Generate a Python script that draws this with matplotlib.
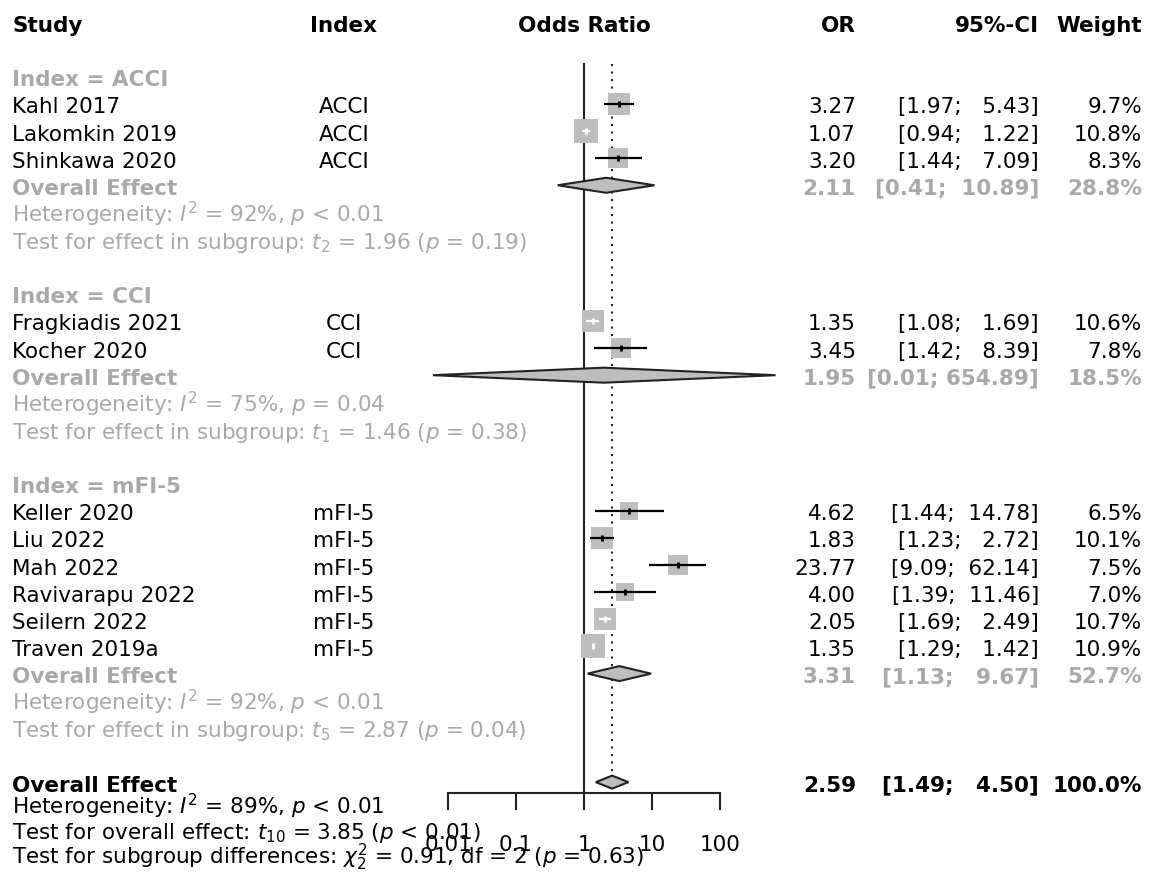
import numpy as np
import matplotlib
matplotlib.use("Agg")
import matplotlib.pyplot as plt
from matplotlib.patches import Polygon

plt.rcParams['font.family'] = ['DejaVu Sans']
plt.rcParams['mathtext.fontset'] = 'dejavusans'

# ---------------- data ----------------
studies = ["Kahl 2017", "Lakomkin 2019", "Shinkawa 2020",
           "Fragkiadis 2021", "Kocher 2020",
           "Keller 2020", "Liu 2022", "Mah 2022", "Ravivarapu 2022", "Seilern 2022", "Traven 2019a"]
index_lab = ["ACCI", "ACCI", "ACCI", "CCI", "CCI",
             "mFI-5", "mFI-5", "mFI-5", "mFI-5", "mFI-5", "mFI-5"]
or_est = [3.27, 1.07, 3.20, 1.35, 3.45, 4.62, 1.83, 23.77, 4.00, 2.05, 1.35]
or_lo = [1.97, 0.94, 1.44, 1.08, 1.42, 1.44, 1.23, 9.09, 1.39, 1.69, 1.29]
or_hi = [5.43, 1.22, 7.09, 1.69, 8.39, 14.78, 2.72, 62.14, 11.46, 2.49, 1.42]
weight = [9.7, 10.8, 8.3, 10.6, 7.8, 6.5, 10.1, 7.5, 7.0, 10.7, 10.9]

groups = ["ACCI", "CCI", "mFI-5"]
grp_or = [2.11, 1.95, 3.31]
grp_lo = [0.41, 0.006, 1.13]
grp_hi = [10.89, 654.89, 9.67]
grp_w = [28.8, 18.5, 52.7]
grp_i2 = [92, 75, 92]
grp_phet = ["< 0.01", "= 0.04", "< 0.01"]
grp_df = [2, 1, 5]
grp_t = [1.96, 1.46, 2.87]
grp_p = [0.19, 0.38, 0.04]

tot_or, tot_lo, tot_hi, tot_w = 2.59, 1.49, 4.50, 100.0
tot_i2, tot_phet = 89, "< 0.01"
tot_df, tot_t, tot_p = 10, 3.85, "< 0.01"
sub_chi2, sub_df, sub_p = 0.91, 2, 0.63

ticks = [0.01, 0.1, 1, 10, 100]
tick_labels = ["0.01", "0.1", "1", "10", "100"]

# ---------------- layout ----------------
W, H = 1150, 880
FS = 15.5
GRAY = "#a9a9a9"
SQ = "#bebebe"
X0, X1 = 448, 720          # pixel extent of the 0.01..100 axis
PX_DEC = (X1 - X0) / 4.0
ROW0, DY = 32, 27.13
def base(r):
    return ROW0 + DY * r
def mid(r):
    return base(r) - 9.5

fig = plt.figure(figsize=(W / 100, H / 100), dpi=100)
tax = fig.add_axes([0, 0, 1, 1])
tax.set_xlim(0, W); tax.set_ylim(H, 0); tax.axis("off")

fax = fig.add_axes([X0 / W, 0, (X1 - X0) / W, 1])
fax.set_xscale("log")
fax.set_xlim(ticks[0], ticks[-1]); fax.set_ylim(H, 0)
fax.patch.set_alpha(0)
for s in ["top", "left", "right"]:
    fax.spines[s].set_visible(False)
fax.spines["bottom"].set_position(("data", 793))
fax.spines["bottom"].set_linewidth(1.5)
fax.spines["bottom"].set_color("#222222")
fax.set_yticks([])
fax.set_xticks(ticks)
fax.set_xticklabels(tick_labels, fontsize=FS)
fax.minorticks_off()
fax.tick_params(axis="x", direction="out", length=12.2, width=1.5, pad=18,
                color="#222222")

COL_STUDY, COL_INDEX, COL_OR, COL_CI, COL_W = 12, 344, 856, 1039, 1142

all_hi = ["{:.2f}".format(v) for v in or_hi + grp_hi + [tot_hi]]
HI_WIDTH = max(len(s) for s in all_hi)

def txt(x, r, s, ha="left", color="black", bold=False, y=None):
    tax.text(x, base(r) if y is None else y, s, ha=ha, va="baseline", fontsize=FS,
             color=color, fontweight="bold" if bold else "normal")

def ci_text(lo, hi):
    a = "{:.2f}".format(lo)
    b = "{:.2f}".format(hi).rjust(HI_WIDTH)
    return "[" + a + "; " + b + "]"

# header
txt(COL_STUDY, 0, "Study", bold=True)
txt(COL_INDEX, 0, "Index", ha="center", bold=True)
txt(584, 0, "Odds Ratio", ha="center", bold=True)
txt(COL_OR, 0, "OR", ha="right", bold=True)
txt(COL_CI, 0, "95%-CI", ha="right", bold=True)
txt(COL_W, 0, "Weight", ha="right", bold=True)

def diamond(r, est, lo, hi, half=7):
    yc = mid(r)
    poly = Polygon([(lo, yc), (est, yc - half), (hi, yc), (est, yc + half)],
                   closed=True, facecolor=SQ, edgecolor="#222222", lw=1.5,
                   clip_on=False, zorder=4)
    fax.add_patch(poly)

# reference lines
top_y = 64
fax.plot([1, 1], [top_y, 793], color="#222222", lw=1.5, clip_on=False, zorder=1)
fax.plot([tot_or, tot_or], [top_y, 772], color="#222222", lw=1.5,
         linestyle=(0, (1, 2.6)), clip_on=False, zorder=1)

row = 2
k = 0
for g in range(len(groups)):
    txt(COL_STUDY, row, "Index = " + groups[g], color=GRAY, bold=True)
    row += 1
    while k < len(studies) and index_lab[k] == groups[g]:
        txt(COL_STUDY, row, studies[k])
        txt(COL_INDEX, row, index_lab[k], ha="center")
        txt(COL_OR, row, "{:.2f}".format(or_est[k]), ha="right")
        txt(COL_CI, row, ci_text(or_lo[k], or_hi[k]), ha="right")
        txt(COL_W, row, "{:.1f}%".format(weight[k]), ha="right")
        side = 7.0 * np.sqrt(weight[k])
        half_dec = side / 2 / PX_DEC
        inside = (np.log10(or_lo[k]) >= np.log10(or_est[k]) - half_dec and
                  np.log10(or_hi[k]) <= np.log10(or_est[k]) + half_dec)
        lc = "white" if inside else "black"
        yc = mid(row)
        fax.plot([or_est[k]], [yc], marker="s", markersize=side * 0.72,
                 color=SQ, markeredgewidth=0, clip_on=False, zorder=2)
        fax.plot([or_lo[k], or_hi[k]], [yc, yc], color=lc, lw=1.6,
                 clip_on=False, zorder=3, solid_capstyle="butt")
        fax.plot([or_est[k]], [yc], marker="|", markersize=5, mew=2,
                 color=lc, clip_on=False, zorder=3)
        row += 1
        k += 1
    txt(COL_STUDY, row, "Overall Effect", color=GRAY, bold=True)
    txt(COL_OR, row, "{:.2f}".format(grp_or[g]), ha="right", color=GRAY, bold=True)
    txt(COL_CI, row, ci_text(grp_lo[g], grp_hi[g]), ha="right", color=GRAY, bold=True)
    txt(COL_W, row, "{:.1f}%".format(grp_w[g]), ha="right", color=GRAY, bold=True)
    diamond(row, grp_or[g], grp_lo[g], grp_hi[g], half=7.5)
    row += 1
    txt(COL_STUDY, row, "Heterogeneity: $I^2$ = {}%, $p$ {}".format(grp_i2[g], grp_phet[g]),
        color=GRAY)
    row += 1
    txt(COL_STUDY, row, "Test for effect in subgroup: $t_{{{}}}$ = {:.2f} ($p$ = {:.2f})".format(
        grp_df[g], grp_t[g], grp_p[g]), color=GRAY)
    row += 2

# overall
txt(COL_STUDY, row, "Overall Effect", bold=True)
txt(COL_OR, row, "{:.2f}".format(tot_or), ha="right", bold=True)
txt(COL_CI, row, ci_text(tot_lo, tot_hi), ha="right", bold=True)
txt(COL_W, row, "{:.1f}%".format(tot_w), ha="right", bold=True)
diamond(row, tot_or, tot_lo, tot_hi, half=6.5)
yb = base(row)
txt(COL_STUDY, row, "Heterogeneity: $I^2$ = {}%, $p$ {}".format(tot_i2, tot_phet), y=yb + 22.5)
txt(COL_STUDY, row, "Test for overall effect: $t_{{{}}}$ = {:.2f} ($p$ {})".format(tot_df, tot_t, tot_p),
    y=yb + 47.5)
txt(COL_STUDY, row, "Test for subgroup differences: $\\chi^2_{{{}}}$ = {:.2f}, df = {} ($p$ = {:.2f})".format(
    sub_df, sub_chi2, sub_df, sub_p), y=yb + 72.5)

fig.savefig("out.png", dpi=100)
